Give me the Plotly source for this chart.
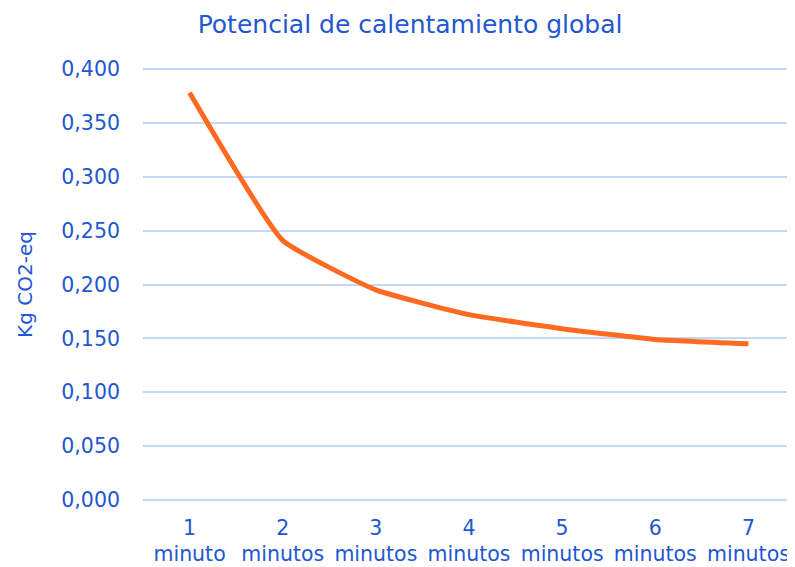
import plotly.graph_objects as go

categories = ["1<br>minuto", "2<br>minutos", "3<br>minutos", "4<br>minutos",
              "5<br>minutos", "6<br>minutos", "7<br>minutos"]
values = [0.378, 0.241, 0.195, 0.172, 0.159, 0.149, 0.145]
y_ticks = [0.0, 0.05, 0.10, 0.15, 0.20, 0.25, 0.30, 0.35, 0.40]

blue = "#2257D0"
font_family = "DejaVu Sans, sans-serif"

fig = go.Figure()
fig.add_trace(go.Scatter(
    x=categories, y=values, mode="lines",
    line=dict(color="#FF6A21", width=5, shape="spline", smoothing=0.4),
    showlegend=False, hoverinfo="skip",
))

fig.update_layout(
    width=795, height=567,
    margin=dict(l=135, r=0, t=60, b=74),
    paper_bgcolor="white", plot_bgcolor="white",
    separators=",.",
    title=dict(text="Potencial de calentamiento global", x=0.5057, xanchor="center",
               xref="container", yref="container", y=0.972, yanchor="middle",
               font=dict(family=font_family, size=25, color=blue)),
    font=dict(family=font_family, color=blue),
)
fig.update_xaxes(
    type="category", range=[-0.5, 6.586], showgrid=False, zeroline=False,
    showline=False, tickfont=dict(size=20.5, color=blue), ticks="",
    ticklabelstandoff=12, automargin=False,
)
fig.update_yaxes(
    range=[-0.001, 0.401], tickvals=y_ticks, tickformat=".3f",
    showgrid=True, gridcolor="#C6D6F6", gridwidth=2, zeroline=False,
    showline=False, ticks="", ticklabelstandoff=22, automargin=False,
    tickfont=dict(size=20.5, color=blue),
    title=dict(text="Kg CO2-eq", font=dict(size=20, color=blue), standoff=23),
)

fig.write_html("out.html")
